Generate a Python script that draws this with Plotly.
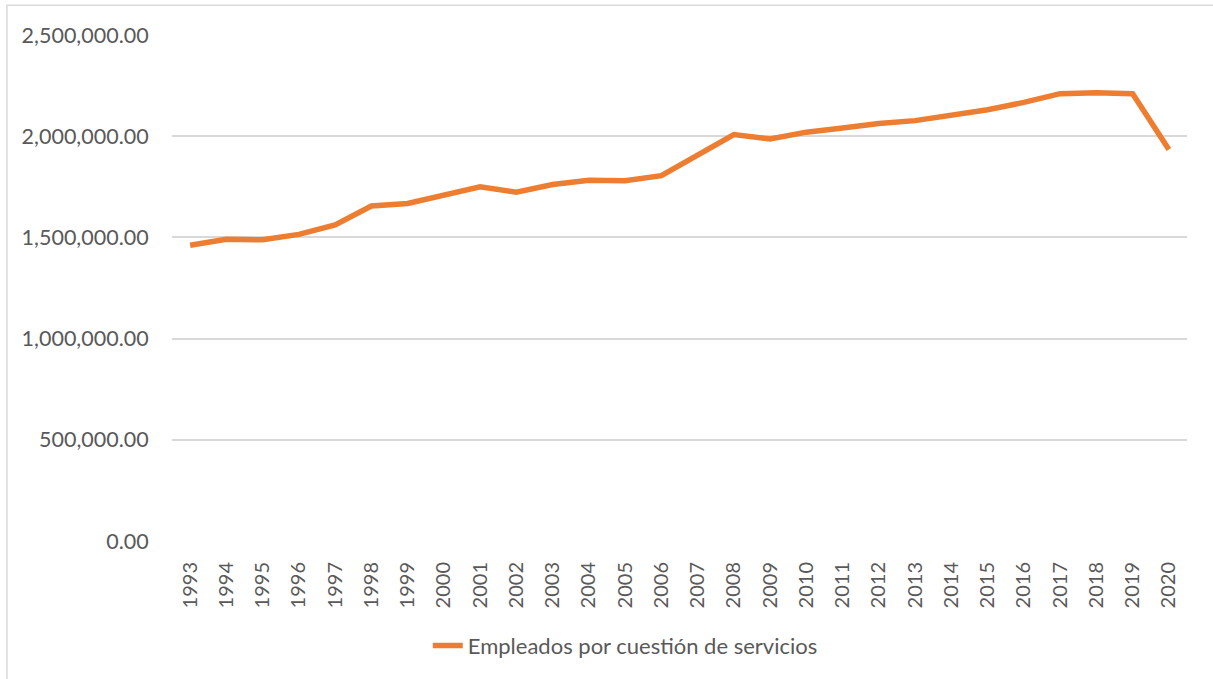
import plotly.graph_objects as go

years = [str(y) for y in range(1993, 2021)]
empleados = [1461000, 1491000, 1488000, 1515000, 1562000, 1655000, 1668000, 1708000,
             1750000, 1723000, 1761000, 1782000, 1780000, 1805000, 1909000, 2008000,
             1986000, 2020000, 2040000, 2063000, 2077000, 2101000, 2131000, 2167000,
             2210000, 2215000, 2210000, 1934000]
serie = 'Empleados por cuestión de servicios'

fig = go.Figure(go.Scatter(
    x=years, y=empleados, name=serie, mode='lines',
    line=dict(color='#ED7D31', width=5.5)
))

fig.update_layout(
    width=1213, height=679,
    paper_bgcolor='white', plot_bgcolor='white',
    margin=dict(l=172, r=26, t=35, b=136),
    font=dict(family='Lato, Carlito, sans-serif', size=18, color='#595959'),
    showlegend=True,
    legend=dict(orientation='h', x=0.252, xanchor='left', y=-0.207, yanchor='middle',
                font=dict(size=22, color='#595959')),
    shapes=[dict(type='rect', xref='paper', yref='paper',
                 x0=-0.1626, x1=1.05, y0=-0.35, y1=1.059,
                 line=dict(color='#D9D9D9', width=1.5))]
)
fig.update_xaxes(type='category', range=[-0.5, 27.5], tickangle=-90,
                 showgrid=False, showline=False, ticks='outside', ticklen=12,
                 tickcolor='white', zeroline=False, tickfont=dict(size=20))
fig.update_yaxes(range=[0, 2500000], dtick=500000, tickformat=',.2f',
                 showgrid=True, gridcolor='#D9D9D9', gridwidth=1.5,
                 zeroline=False, showline=False, ticks='outside', ticklen=18,
                 tickcolor='white', tickfont=dict(size=21.5))

fig.write_html("out.html", config={'displayModeBar': False},
               post_script="document.body.style.margin='0px';")
